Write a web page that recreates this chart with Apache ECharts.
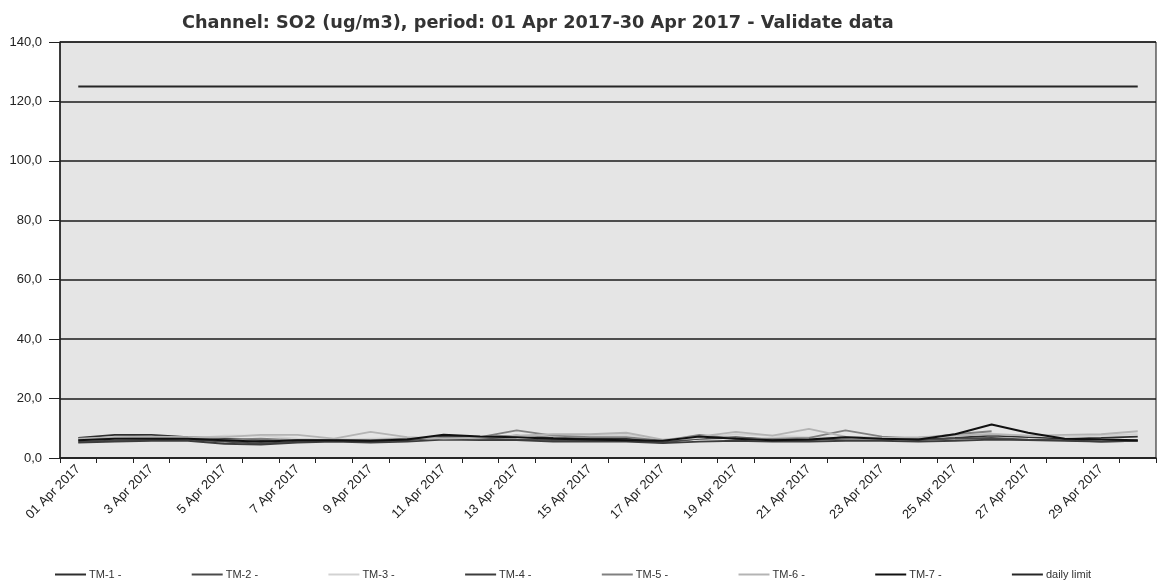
<!DOCTYPE html>
<html>
<head>
<meta charset="utf-8">
<script src="https://cdn.jsdelivr.net/npm/echarts@6/dist/echarts.min.js"></script>
<style>html,body{margin:0;padding:0;background:#fff}#c{width:1158px;height:587px}</style>
</head>
<body>
<div id="c"></div>
<script>
const categories = ['01 Apr 2017','2 Apr 2017','3 Apr 2017','4 Apr 2017','5 Apr 2017','6 Apr 2017','7 Apr 2017','8 Apr 2017','9 Apr 2017','10 Apr 2017','11 Apr 2017','12 Apr 2017','13 Apr 2017','14 Apr 2017','15 Apr 2017','16 Apr 2017','17 Apr 2017','18 Apr 2017','19 Apr 2017','20 Apr 2017','21 Apr 2017','22 Apr 2017','23 Apr 2017','24 Apr 2017','25 Apr 2017','26 Apr 2017','27 Apr 2017','28 Apr 2017','29 Apr 2017','30 Apr 2017'];
const tm1 = [6.8,7.8,7.8,7.0,6.5,6.0,6.2,6.0,5.8,6.0,7.2,7.0,7.5,6.8,6.5,6.5,5.5,6.5,6.8,6.2,6.0,7.0,6.5,6.2,6.8,7.5,7.0,6.5,6.8,7.2];
const tm2 = [5.5,5.8,6.0,6.2,5.5,4.8,5.5,5.8,5.5,6.0,7.0,6.5,6.2,6.0,6.0,6.0,5.2,6.5,7.0,6.2,6.0,6.5,6.5,6.0,6.5,6.8,6.2,6.0,5.5,5.8];
const tm3 = [6.2,6.5,6.8,6.5,7.5,7.5,6.5,6.0,6.5,6.8,6.5,7.0,7.2,7.8,7.5,7.8,6.0,6.8,8.0,7.5,7.0,6.8,6.5,6.8,7.5,8.2,7.5,7.0,7.5,8.0];
const tm4 = [5.2,5.5,5.8,5.8,4.8,4.5,5.2,5.5,5.2,5.5,6.2,6.0,6.0,5.5,5.5,5.5,5.0,5.5,5.8,5.5,5.5,5.8,5.8,5.5,5.8,6.2,6.0,5.8,5.5,5.8];
const tm5 = [6.0,6.8,7.0,6.8,6.2,6.5,6.0,6.2,6.0,6.5,6.8,7.0,9.3,7.5,7.0,7.0,5.8,7.8,6.5,6.5,6.8,9.3,7.2,6.5,8.0,9.0,null,null,null,null];
const tm6 = [6.5,7.0,7.2,7.0,7.0,7.8,7.8,6.5,8.8,7.0,6.5,6.8,7.5,8.0,8.0,8.5,6.2,7.2,8.8,7.5,9.8,7.2,6.8,7.0,7.5,8.0,7.5,7.8,8.0,9.0];
const tm7 = [6.0,6.5,6.5,6.5,6.0,5.5,6.0,6.0,5.8,6.2,7.8,7.2,7.0,6.5,6.2,6.0,5.8,7.2,6.5,6.0,6.2,7.0,6.5,6.2,8.0,11.3,8.5,6.5,6.2,6.0];
const dailyLimit = [125,125,125,125,125,125,125,125,125,125,125,125,125,125,125,125,125,125,125,125,125,125,125,125,125,125,125,125,125,125];
const seriesNames = ['TM-1 -','TM-2 -','TM-3 -','TM-4 -','TM-5 -','TM-6 -','TM-7 -','daily limit'];
const seriesData = [tm1,tm2,tm3,tm4,tm5,tm6,tm7,dailyLimit];
const colors = ['#2e2e2e','#4a4a4a','#d2d2d2','#3c3c3c','#808080','#b4b4b4','#111111','#262626'];
const yTicks = { min: 0, max: 140, interval: 20 };

const chart = echarts.init(document.getElementById('c'), null, { renderer: 'canvas' });
const legends = seriesNames.map((n, i) => ({
  data: [n], left: 55 + i * 136.7, top: 569, orient: 'horizontal',
  icon: 'rect', itemWidth: 31, itemHeight: 2, itemGap: 0,
  textStyle: { fontFamily: 'Liberation Sans', fontSize: 11, color: '#333', padding: [0, 0, 0, -2] },
  padding: 0
}));
chart.setOption({
  animation: false,
  backgroundColor: '#ffffff',
  color: colors,
  title: {
    text: 'Channel: SO2 (ug/m3), period: 01 Apr 2017-30 Apr 2017 - Validate data',
    left: 177, top: 9,
    textStyle: { fontFamily: 'DejaVu Sans', fontWeight: 'bold', fontSize: 17.7, color: '#333' }
  },
  legend: legends,
  grid: { left: 60, right: 2, top: 42, bottom: 129, show: true, backgroundColor: '#e5e5e5', borderColor: '#111', borderWidth: 1 },
  xAxis: {
    type: 'category', data: categories, boundaryGap: true,
    axisLine: { lineStyle: { color: '#222', width: 1.5 } },
    axisTick: { show: true, interval: 0, length: 5, lineStyle: { color: '#222' } },
    axisLabel: {
      interval: 1, rotate: 45, margin: 9,
      fontFamily: 'Liberation Sans', fontSize: 13, color: '#222'
    },
    splitLine: { show: false }
  },
  yAxis: {
    type: 'value', min: yTicks.min, max: yTicks.max, interval: yTicks.interval,
    axisLine: { show: true, lineStyle: { color: '#222', width: 1.5 } },
    axisTick: { show: true, length: 11, inside: false, lineStyle: { color: '#222' } },
    axisLabel: {
      margin: 18, fontFamily: 'Liberation Sans', fontSize: 13, color: '#222',
      formatter: v => v.toFixed(1).replace('.', ',')
    },
    splitLine: { show: true, lineStyle: { color: '#1a1a1a', width: 1.5 } }
  },
  series: seriesNames.map((n, i) => ({
    name: n, type: 'line', data: seriesData[i], showSymbol: false, symbol: 'none',
    lineStyle: { width: i === 6 || i === 7 ? 2 : 1.8, color: colors[i] },
    itemStyle: { color: colors[i] },
    connectNulls: false
  }))
});
</script>
</body>
</html>
